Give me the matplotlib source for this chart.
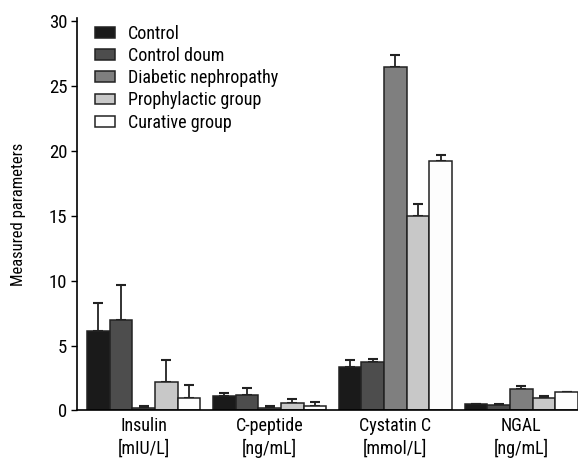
import numpy as np
import matplotlib
matplotlib.use("Agg")
from matplotlib import pyplot as plt
from matplotlib import font_manager

# pick a narrow sans face if one is installed
names = {f.name for f in font_manager.fontManager.ttflist}
narrow = [n for n in ["Liberation Sans Narrow", "Roboto Condensed", "Open Sans Condensed",
                      "DejaVu Sans Condensed"] if n in names]
plt.rcParams['font.family'] = narrow + ['DejaVu Sans']
condensed = [f for f in font_manager.fontManager.ttflist
             if f.name == "DejaVu Sans" and "ondensed" in str(f.stretch)]
if not narrow and condensed:
    plt.rcParams['font.stretch'] = 'condensed'

# measured parameters per group (mean and SD)
categories = ["Insulin\n[mIU/L]", "C-peptide\n[ng/mL]", "Cystatin C\n[mmol/L]", "NGAL\n[ng/mL]"]
groups = ["Control", "Control doum", "Diabetic nephropathy", "Prophylactic group", "Curative group"]

control = [6.1, 1.09, 3.35, 0.47]
control_doum = [7.0, 1.19, 3.73, 0.44]
diabetic = [0.21, 0.17, 26.45, 1.64]
prophylactic = [2.2, 0.6, 15.0, 0.96]
curative = [1.0, 0.37, 19.2, 1.39]

control_sd = [2.2, 0.27, 0.57, 0.02]
control_doum_sd = [2.7, 0.53, 0.23, 0.06]
diabetic_sd = [0.16, 0.15, 0.93, 0.26]
prophylactic_sd = [1.7, 0.26, 0.87, 0.17]
curative_sd = [0.95, 0.28, 0.5, 0.05]

means = [control, control_doum, diabetic, prophylactic, curative]
sds = [control_sd, control_doum_sd, diabetic_sd, prophylactic_sd, curative_sd]
colors = ["#1a1a1a", "#4d4d4d", "#7f7f7f", "#c8c8c8", "#fdfdfd"]

fig = plt.figure(figsize=(5.78, 4.59), dpi=100)
ax = fig.add_axes([0.133, 0.1057, 0.867, 0.854])

x = np.arange(len(categories))
w = 0.18
for i, (m, s, c, g) in enumerate(zip(means, sds, colors, groups)):
    pos = x + (i - 2) * w
    ax.bar(pos, m, width=w, color=c, edgecolor="#222222", linewidth=1.1, label=g, zorder=2)
    ax.errorbar(pos, m, yerr=[np.zeros(len(m)), s], fmt="none", ecolor="#222222",
                elinewidth=1.3, capsize=3.5, capthick=1.5, zorder=1)

ax.set_xlim(-0.53, 3.45)
ax.set_ylim(0, 30.2)
ax.set_yticks([0, 5, 10, 15, 20, 25, 30])
ax.set_xticks(x)
ax.set_xticklabels(categories, fontsize=13, linespacing=1.25)
ax.tick_params(axis="x", length=0, pad=5)
ax.tick_params(axis="y", labelsize=13.5, length=4, width=1, pad=3)
for side in ["top", "right"]:
    ax.spines[side].set_visible(False)
ax.spines["left"].set_linewidth(1.2)
ax.spines["bottom"].set_linewidth(1.2)

ax.set_ylabel("Measured parameters", fontsize=12, labelpad=16)

ax.legend(loc="upper left", bbox_to_anchor=(0.004, 1.025), frameon=False, fontsize=13,
          handlelength=1.1, handleheight=0.55, handletextpad=0.7, labelspacing=0.23)

fig.savefig("out.png", dpi=100)
